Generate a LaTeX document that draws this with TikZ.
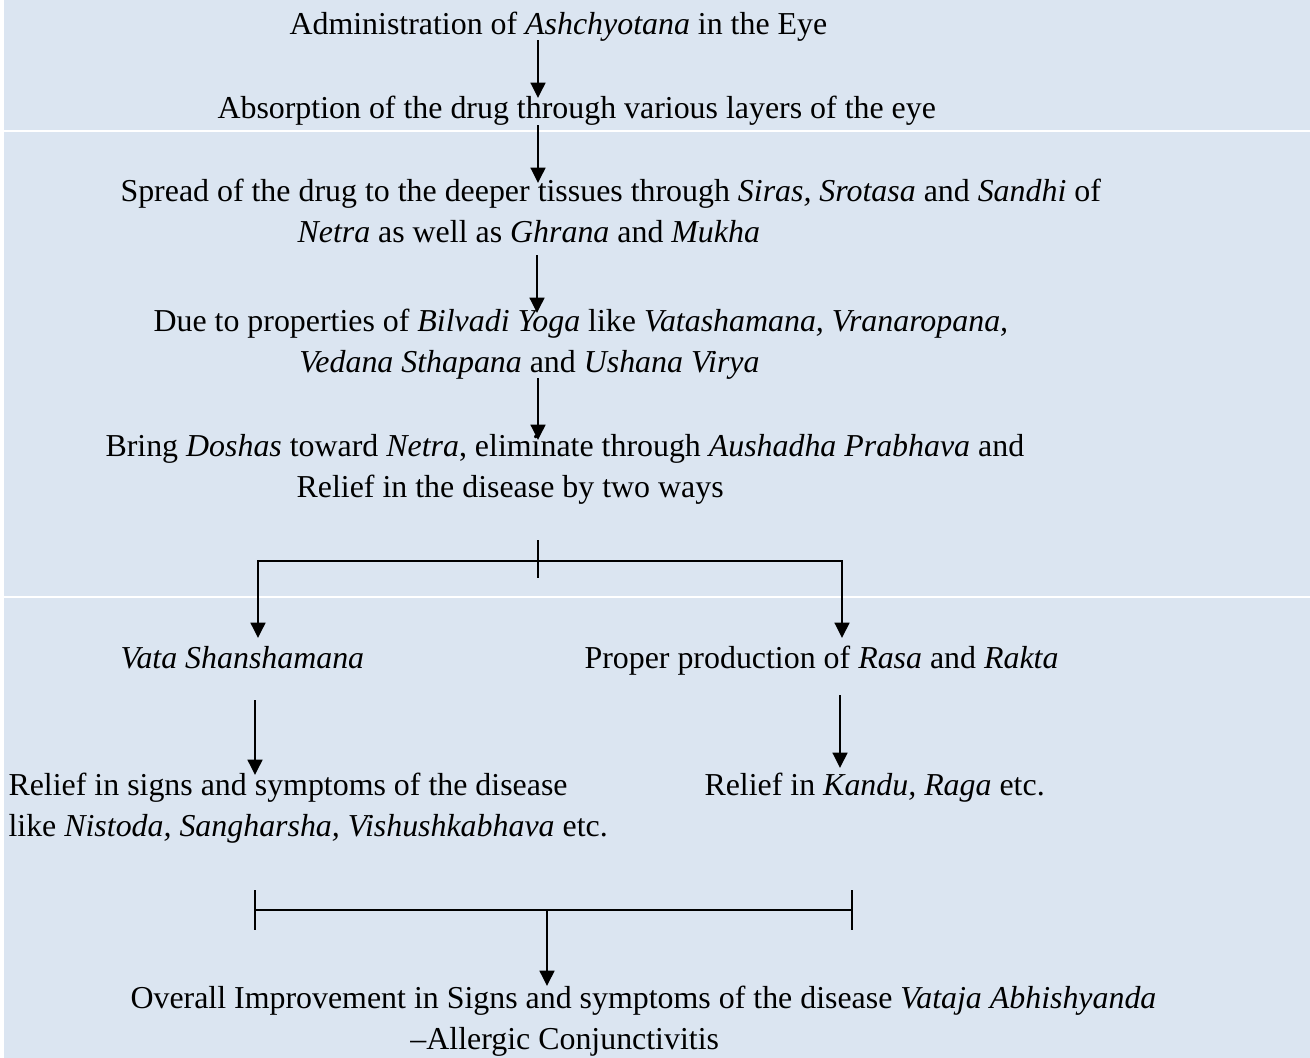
\documentclass[tikz,border=0pt]{standalone}
\usepackage{fontspec}
\setmainfont{Liberation Serif}
\usepackage{tikz}
\usetikzlibrary{arrows.meta}
\usetikzlibrary{positioning}
\definecolor{panel}{HTML}{DBE5F1}

\begin{document}
\begin{tikzpicture}[x=0.3762pt,y=-0.3762pt,
    txt/.style={inner sep=0pt,anchor=base west,align=left,font=\fontsize{12}{15.4}\selectfont},
    flow/.style={line width=0.75pt,-{Triangle[width=5.6pt,length=5.8pt]}},
    bar/.style={line width=0.75pt}]

      \useasboundingbox (0,0) rectangle (1310,1058);
      \fill[panel] (4,0) rectangle (1310,1058);
      \draw[white,line width=0.6pt] (4,131) -- (1310,131) (4,597) -- (1310,597);

      % two-line nodes sit on the baseline of their last line
      \node[txt] (admin)  at (289,34)  {Administration of \textit{Ashchyotana} in the Eye};
      \node[txt] (absorb) at (217,118) {Absorption of the drug through various layers of the eye};
      \node[txt] (spread) at (120,242) {Spread of the drug to the deeper tissues through \textit{Siras, Srotasa} and \textit{Sandhi} of\\
        \hspace*{66.6pt}\textit{Netra} as well as \textit{Ghrana} and \textit{Mukha}};
      \node[txt] (props)  at (153,372) {Due to properties of \textit{Bilvadi Yoga} like \textit{Vatashamana, Vranaropana,}\\
        \hspace*{54.9pt}\textit{Vedana Sthapana} and \textit{Ushana Virya}};
      \node[txt] (bring)  at (105,497) {Bring \textit{Doshas} toward \textit{Netra}, eliminate through \textit{Aushadha Prabhava} and\\
        \hspace*{71.9pt}Relief in the disease by two ways};
      \node[txt] (vata)   at (120,668) {\textit{Vata Shanshamana}};
      \node[txt] (rasa)   at (584,668) {Proper production of \textit{Rasa} and \textit{Rakta}};
      \node[txt] (signs)  at (8,836)   {Relief in signs and symptoms of the disease\\
        like \textit{Nistoda, Sangharsha, Vishushkabhava} etc.};
      \node[txt] (kandu)  at (704,795) {Relief in \textit{Kandu, Raga} etc.};
      \node[txt] (overall) at (130,1049) {Overall Improvement in Signs and symptoms of the disease \textit{Vataja Abhishyanda}\\
        \hspace*{105.3pt}--Allergic Conjunctivitis};

      % arrow ends
      \coordinate (a1) at (538,40);   \coordinate (b1) at (538,98);
      \coordinate (a2) at (538,125);  \coordinate (b2) at (538,183);
      \coordinate (a3) at (537,255);  \coordinate (b3) at (537,313);
      \coordinate (a4) at (538,378);  \coordinate (b4) at (538,440);
      \coordinate (t1) at (538,540);  \coordinate (t2) at (538,578);
      \coordinate (fork) at (538,561);
      \coordinate (l1) at (258,638);  \coordinate (r1) at (842,638);
      \coordinate (a5) at (255,700);  \coordinate (b5) at (255,775);
      \coordinate (a6) at (840,695);  \coordinate (b6) at (840,768);
      \coordinate (lt) at (255,890);  \coordinate (lb) at (255,930);
      \coordinate (rt) at (852,890);  \coordinate (rb) at (852,930);
      \coordinate (join) at (547,910); \coordinate (b7) at (547,986);

      \path[flow]
      (a1) edge (b1)
      (a2) edge (b2)
      (a3) edge (b3)
      (a4) edge (b4)
      (a5) edge (b5)
      (a6) edge (b6)
      (join) edge (b7)
      ;
      \draw[bar] (t1) -- (t2);
      \draw[flow] (fork) -| (l1);
      \draw[flow] (fork) -| (r1);
      \draw[bar] (lt) -- (lb) (rt) -- (rb) (lt |- join) -- (rt |- join);
    \end{tikzpicture}
\end{document}
